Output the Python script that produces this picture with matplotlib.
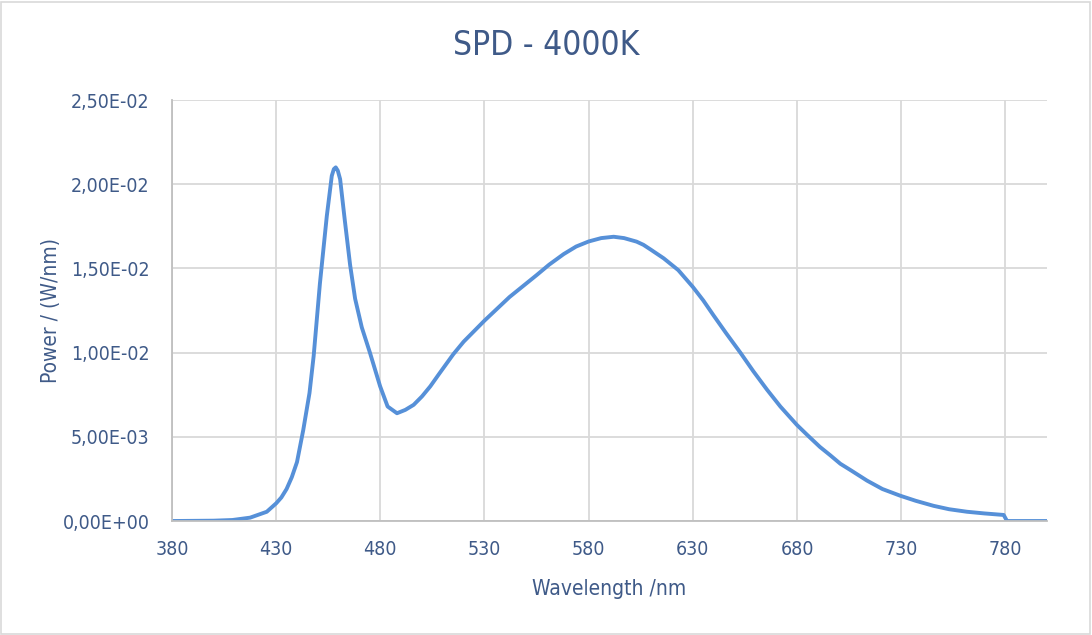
import matplotlib.pyplot as plt
from matplotlib.ticker import FuncFormatter, MultipleLocator
from matplotlib.patches import Rectangle

# Dados (comprimento de onda em nm, potência em W/nm)
WAVELENGTH = [380, 400, 409, 417.5, 425.5, 430, 432.5, 435, 437.5, 440, 443,
              446, 448, 451, 454.3, 456.7, 457.7, 458.6, 459.6, 460.7, 463,
              465.5, 467.9, 471.1, 475, 479.9, 483.5, 488, 492, 496, 500, 504,
              508, 515, 520, 530, 536, 542, 548, 555, 561, 568, 574, 580, 586,
              592, 597, 603, 606.3, 610, 616, 623, 630, 635, 640, 646, 652.8,
              659, 665.6, 672, 680, 685, 691, 696, 700.8, 706, 713.6, 721,
              729.6, 737, 745.6, 753, 761.6, 770, 779.2, 780.8, 800]
POWER = [0.0, 0.00002, 0.00006, 0.0002, 0.00055, 0.00105, 0.0014, 0.0019,
         0.0026, 0.0035, 0.0054, 0.0076, 0.0098, 0.0141, 0.0181, 0.0205,
         0.0209, 0.0210, 0.0208, 0.0203, 0.0178, 0.0152, 0.0132, 0.0115,
         0.0100, 0.0080, 0.0068, 0.0064, 0.0066, 0.0069, 0.0074, 0.0080,
         0.0087, 0.0099, 0.01065, 0.0119, 0.0126, 0.0133, 0.0139, 0.0146,
         0.01522, 0.01585, 0.0163, 0.0166, 0.0168, 0.01688, 0.0168, 0.01659,
         0.0164, 0.0161, 0.0156, 0.0149, 0.0139, 0.0131, 0.0122, 0.01115,
         0.0100, 0.0089, 0.0078, 0.0068, 0.0057, 0.0051, 0.0044, 0.0039,
         0.0034, 0.0030, 0.0024, 0.0019, 0.0015, 0.0012, 0.0009, 0.0007,
         0.00055, 0.00045, 0.00036, 0.0, 0.0]

TITLE = "SPD - 4000K"
X_LABEL = "Wavelength /nm"
Y_LABEL = "Power / (W/nm)"

TEXT_COLOR = '#3F5A88'
LINE_COLOR = '#5690D8'
GRID_COLOR = '#D9D9D9'

plt.rcParams['font.family'] = ['DejaVu Sans']
plt.rcParams['font.stretch'] = 'condensed'

fig = plt.figure(figsize=(10.92, 6.35), dpi=100)
fig.patches.append(Rectangle((0.001, 0.002), 0.997, 0.995, transform=fig.transFigure,
                             fill=False, edgecolor=GRID_COLOR, linewidth=1.2))
ax = fig.add_axes([0.1575, 0.1795, 0.8013, 0.663])

ax.plot(WAVELENGTH, POWER, color=LINE_COLOR, linewidth=2.8,
        solid_joinstyle='round', solid_capstyle='butt')

ax.set_xlim(380, 800)
ax.set_ylim(0, 0.025)
ax.set_xticks(range(380, 781, 50))
ax.yaxis.set_major_locator(MultipleLocator(0.005))
ax.yaxis.set_major_formatter(FuncFormatter(lambda v, p: f"{v:.2E}".replace('.', ',')))

ax.grid(True, color=GRID_COLOR, linewidth=1.3)
ax.set_axisbelow(True)
for side in ['top', 'right']:
    ax.spines[side].set_visible(False)
ax.spines['left'].set_color('#BFBFBF')
ax.spines['bottom'].set_color('#BFBFBF')
ax.spines['left'].set_linewidth(1.3)
ax.spines['bottom'].set_linewidth(1.3)

ax.tick_params(length=0, labelsize=14, colors=TEXT_COLOR)
ax.tick_params(axis='y', pad=16)
ax.tick_params(axis='x', pad=14)

ax.set_xlabel(X_LABEL, fontsize=15, color=TEXT_COLOR, labelpad=14)
ax.set_ylabel(Y_LABEL, fontsize=15, color=TEXT_COLOR, labelpad=1)
fig.text(0.5, 0.928, TITLE, ha='center', va='center', fontsize=24, color=TEXT_COLOR)

fig.savefig('out.png', dpi=100)
